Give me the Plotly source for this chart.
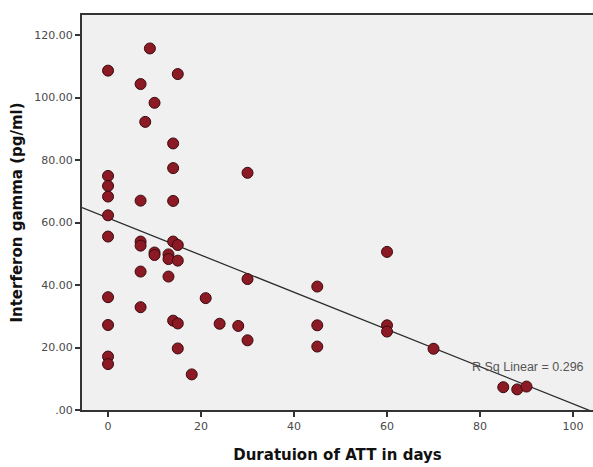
import numpy as np
import plotly.graph_objects as go

# Duration of ATT (days) and Interferon gamma (pg/ml)
duration_days = [0, 0, 0, 0, 0, 0, 0, 0, 0, 0,
                 7, 7, 7, 7, 7, 7,
                 8, 9,
                 10, 10, 10,
                 13, 13, 13,
                 14, 14, 14, 14, 14,
                 15, 15, 15, 15, 15,
                 18, 21, 24, 28,
                 30, 30, 30,
                 45, 45, 45,
                 60, 60, 60,
                 70, 85, 88, 90]
ifn_gamma = [108.6, 74.9, 71.7, 68.3, 62.3, 55.5, 36.1, 27.2, 17.1, 14.7,
             104.3, 67.0, 53.9, 52.6, 44.3, 32.9,
             92.2, 115.7,
             98.3, 50.4, 49.6,
             49.8, 48.3, 42.7,
             85.3, 77.4, 66.9, 53.9, 28.6,
             107.5, 52.8, 47.8, 27.7, 19.7,
             11.4, 35.8, 27.6, 26.9,
             75.9, 41.9, 22.3,
             39.5, 27.1, 20.3,
             50.6, 27.1, 25.1,
             19.6, 7.3, 6.6, 7.5]

y_tickvals = [0, 20, 40, 60, 80, 100, 120]
y_ticktext = [".00", "20.00", "40.00", "60.00", "80.00", "100.00", "120.00"]
x_tickvals = [0, 20, 40, 60, 80, 100]

x_range = [-5.6, 104.3]
y_range = [0, 126.4]

slope, intercept = np.polyfit(duration_days, ifn_gamma, 1)
line_x = np.array(x_range)
line_y = intercept + slope * line_x

fig = go.Figure()
fig.add_trace(go.Scatter(
    x=line_x, y=line_y, mode="lines",
    line=dict(color="#2b2b2b", width=1.3),
    hoverinfo="skip", showlegend=False,
))
fig.add_trace(go.Scatter(
    x=duration_days, y=ifn_gamma, mode="markers",
    marker=dict(size=11, color="#8c1a24", line=dict(color="#3a0a0e", width=1)),
    showlegend=False,
))

fig.add_annotation(
    x=90.4, y=13.9, xref="x", yref="y", text="R Sq Linear = 0.296",
    showarrow=False, font=dict(family="Liberation Sans, Arial", size=12.5, color="#555555"),
)

axis_font = dict(family="DejaVu Sans", size=15, color="#111111")
tick_font = dict(family="DejaVu Sans", size=11, color="#4a4a4a")

fig.update_xaxes(
    range=x_range, tickvals=x_tickvals, tickfont=tick_font,
    showgrid=False, zeroline=False, automargin=False,
    showline=True, linecolor="#333333", linewidth=2, mirror=True,
    ticks="outside", ticklen=5, tickwidth=1.5, tickcolor="#333333",
    title=dict(text="<b>Duratuion of ATT in days</b>", font=axis_font, standoff=17),
)
fig.update_yaxes(
    range=y_range, tickvals=y_tickvals, ticktext=y_ticktext, tickfont=tick_font,
    showgrid=False, zeroline=False, automargin=False,
    showline=True, linecolor="#333333", linewidth=2,
    ticks="outside", ticklen=5, tickwidth=1.5, tickcolor="#333333",
    title=dict(text="<b>Interferon gamma (pg/ml)</b>", font=axis_font, standoff=8),
)

fig.update_layout(
    width=593, height=467,
    margin=dict(l=82, r=0, t=15, b=57),
    paper_bgcolor="white", plot_bgcolor="#f0f0f0",
)

fig.write_html(
    "out.html",
    config={"displayModeBar": False},
    post_script="document.body.style.margin='0';document.body.style.overflow='hidden';",
)
